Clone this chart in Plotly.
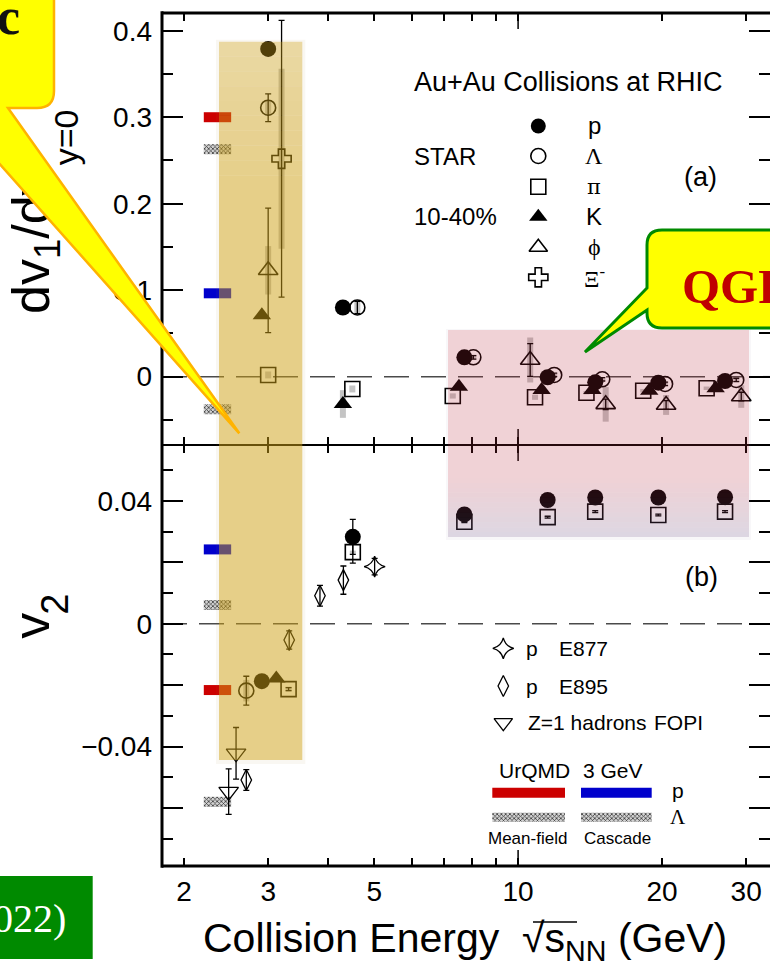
import math
import plotly.graph_objects as go

# ---------------------------------------------------------------------------
# (a) STAR directed-flow slope dv1/dy at y=0, Au+Au 10-40%
# ---------------------------------------------------------------------------
p_a_e = [3.0, 4.30, 7.72, 11.53, 14.5, 19.65, 27.1]
p_a_v = [0.379, 0.080, 0.0224, -0.0007, -0.0065, -0.0069, -0.0050]

lam_a_e = [3.0, 4.61, 8.06, 11.9, 15.0, 20.3, 28.6]
lam_a_v = [0.311, 0.080, 0.0224, 0.0020, -0.0030, -0.0084, -0.0038]
lam_a_stat = [0.016, 0.007, 0.002, 0.002, 0.002, 0.002, 0.002]
lam_a_sys = [0.009, 0.008, 0.003, 0.002, 0.002, 0.002, 0.002]

pi_a_e = [3.0, 4.50, 7.30, 10.85, 13.9, 18.27, 24.8]
pi_a_v = [0.002, -0.0142, -0.0223, -0.0238, -0.0185, -0.0162, -0.0134]
pi_a_sys = [0.004, 0.004, 0.003, 0.003, 0.002, 0.002, 0.002]

k_a_e = [2.91, 4.30, 7.52, 11.2, 14.3, 18.81, 25.9]
k_a_v = [0.071, -0.0316, -0.0116, -0.0154, -0.0154, -0.0162, -0.0134]
k_a_sys = [0.004, 0.016, 0.003, 0.003, 0.002, 0.002, 0.002]

phi_a_e = [3.0, 10.6, 15.25, 20.4, 29.3]
phi_a_v = [0.123, 0.0193, -0.032, -0.0327, -0.023]
phi_a_stat = [0.072, 0.019, 0.006, 0.005, 0.005]
phi_a_sys = [0.028, 0.026, 0.020, 0.0115, 0.013]

xi_a_e = [3.2]
xi_a_v = [0.252]
xi_a_stat = [0.160]
xi_a_sys = [0.104]

# ---------------------------------------------------------------------------
# (b) elliptic flow v2
# ---------------------------------------------------------------------------
p_b_e = [2.91, 4.51, 7.72, 11.53, 14.5, 19.65, 27.1]
p_b_v = [-0.0187, 0.0283, 0.0356, 0.0403, 0.0411, 0.0411, 0.0412]
p_b_stat = [0.0008, 0.0057, 0.0003, 0.0003, 0.0003, 0.0003, 0.0003]

pi_b_e = [3.31, 4.51, 7.72, 11.53, 14.5, 19.65, 27.1]
pi_b_v = [-0.0213, 0.0233, 0.0332, 0.0347, 0.0365, 0.0354, 0.0365]
pi_b_stat = [0.0005, 0.0036, 0.0003, 0.0003, 0.0003, 0.0003, 0.0003]
pi_b_sys = [0.0008, 0.0005, 0.0004, 0.0004, 0.0004, 0.0004, 0.0004]

lam_b_e = [2.70]
lam_b_v = [-0.0218]
lam_b_stat = [0.0047]
lam_b_sys = [0.0035]

k_b_e = [3.12]
k_b_v = [-0.0178]

e877_e = [5.01]
e877_v = [0.0186]
e877_stat = [0.0027]

e895_e = [2.70, 3.32, 3.85, 4.31]
e895_v = [-0.0509, -0.0053, 0.0091, 0.0142]
e895_stat = [0.0034, 0.0030, 0.0034, 0.0046]

fopi_e = [2.48, 2.57]
fopi_v = [-0.0547, -0.0422]
fopi_stat = [0.0074, 0.0084]

# UrQMD 3 GeV predictions: mean-field p, mean-field Lambda, cascade p, cascade Lambda
urqmd_names = ["Mean-field p", "Mean-field Λ", "Cascade p", "Cascade Λ"]
urqmd_dv1 = [0.300, 0.263, 0.0964, -0.0377]
urqmd_v2 = [-0.0216, -0.0580, 0.0242, 0.0061]

# tick labels
x_ticks = [2, 3, 5, 10, 20, 30]
x_minor = [4, 6, 7, 8, 9]
ya_ticks = [0, 0.1, 0.2, 0.3, 0.4]
ya_minor = [-0.05, 0.05, 0.15, 0.25, 0.35]
yb_ticks = [-0.06, -0.04, -0.02, 0, 0.02, 0.04]
yb_text = ["", "\u22120.04", "", "0", "", "0.04"]
yb_minor = [-0.07, -0.05, -0.03, -0.01, 0.01, 0.03, 0.05]

# ---------------------------------------------------------------------------
# geometry
# ---------------------------------------------------------------------------
W, H = 770, 970
PL, PR, PT, PB = 162, 770, 13, 866
PMID = 445
XMIN, XMAX = 0.255, 1.527
YA_RANGE = [-0.079, 0.4205]
YB_RANGE = [-0.0789, 0.0582]
SPLIT = (PB - PMID) / (PB - PT)

SANS = "Liberation Sans, Arial, Helvetica, sans-serif"
SERIF = "Liberation Serif, Times New Roman, serif"


def px(x):
    return (x - PL) / (PR - PL)


def py(y):
    return (PB - y) / (PB - PT)


def e_at(xpix):
    return 10 ** (XMIN + (xpix - PL) / (PR - PL) * (XMAX - XMIN))


def va_at(ypix):
    return YA_RANGE[1] - (ypix - PT) / (PMID - PT) * (YA_RANGE[1] - YA_RANGE[0])


def vb_at(ypix):
    return YB_RANGE[1] - (ypix - PMID) / (PB - PMID) * (YB_RANGE[1] - YB_RANGE[0])


fig = go.Figure()

TOP = dict(xaxis="x2", yaxis="y2")
BOT = dict(xaxis="x", yaxis="y")


def sys_boxes(e, v, s, axes):
    fig.add_trace(go.Scatter(
        x=e, y=v, mode="markers", showlegend=False, hoverinfo="skip",
        marker=dict(size=1, color="rgba(0,0,0,0)"),
        error_y=dict(type="data", array=s, thickness=6, width=0, color="#c4c4c4"),
        **axes))


def points(e, v, symbol, size, axes, stat=None, lw=1.6):
    err = None
    if stat is not None:
        err = dict(type="data", array=stat, thickness=1.3, width=3, color="black")
    fig.add_trace(go.Scatter(
        x=e, y=v, mode="markers", showlegend=False, hoverinfo="skip",
        marker=dict(symbol=symbol, size=size, color="black",
                    line=dict(width=lw, color="black")),
        error_y=err, **axes))


# systematic boxes
sys_boxes(lam_a_e, lam_a_v, lam_a_sys, TOP)
sys_boxes(pi_a_e, pi_a_v, pi_a_sys, TOP)
sys_boxes(k_a_e, k_a_v, k_a_sys, TOP)
sys_boxes(phi_a_e, phi_a_v, phi_a_sys, TOP)
sys_boxes(xi_a_e, xi_a_v, xi_a_sys, TOP)
sys_boxes(pi_b_e, pi_b_v, pi_b_sys, BOT)
sys_boxes(lam_b_e, lam_b_v, lam_b_sys, BOT)

# UrQMD bars (short horizontal bars at the left edge)
BAR_E0, BAR_E1 = 2.20, 2.51
hatch = dict(color="#cfcfcf", pattern=dict(shape="x", size=3, solidity=0.45,
                                           fgcolor="#3a3a3a", bgcolor="#d2d2d2"))
bar_styles = [dict(color="#cc0000"), hatch, dict(color="#0000cc"), hatch]
thick_a = 10 / (PMID - PT) * (YA_RANGE[1] - YA_RANGE[0])
thick_b = 10 / (PB - PMID) * (YB_RANGE[1] - YB_RANGE[0])
for val, st in zip(urqmd_dv1, bar_styles):
    fig.add_trace(go.Bar(orientation="h", y=[val], x=[BAR_E1 - BAR_E0], base=[BAR_E0],
                         width=[thick_a], marker=dict(line=dict(width=0), **st),
                         showlegend=False, hoverinfo="skip", **TOP))
for val, st in zip(urqmd_v2, bar_styles):
    fig.add_trace(go.Bar(orientation="h", y=[val], x=[BAR_E1 - BAR_E0], base=[BAR_E0],
                         width=[thick_b], marker=dict(line=dict(width=0), **st),
                         showlegend=False, hoverinfo="skip", **BOT))

# (a) data
points(pi_a_e, pi_a_v, "square-open", 15, TOP)
points(lam_a_e, lam_a_v, "circle-open", 15, TOP, lam_a_stat)
points(phi_a_e, phi_a_v, "triangle-up-open", 17, TOP, phi_a_stat)
points(xi_a_e, xi_a_v, "cross-open", 16, TOP, xi_a_stat)
points(k_a_e, k_a_v, "triangle-up", 16, TOP, lw=0)
points(p_a_e, p_a_v, "circle", 16, TOP, lw=0)

# (b) data
points(e895_e, e895_v, "diamond-tall-open", 15, BOT, e895_stat, lw=1.3)
points(fopi_e, fopi_v, "triangle-down-open", 17, BOT, fopi_stat, lw=1.3)
points(e877_e, e877_v, "star-diamond-open", 15, BOT, e877_stat, lw=1.3)
points(pi_b_e, pi_b_v, "square-open", 15, BOT, pi_b_stat)
points(lam_b_e, lam_b_v, "circle-open", 15, BOT, lam_b_stat)
points(k_b_e, k_b_v, "triangle-up", 16, BOT, lw=0)
points(p_b_e, p_b_v, "circle", 16, BOT, p_b_stat, lw=0)

# legend keys for (a)
leg_a_sym = ["circle", "circle-open", "square-open", "triangle-up", "triangle-up-open", "cross-open"]
leg_a_lab = ["p", "Λ", "π", "K", "\u03d5", "Ξ<sup>-</sup>"]
leg_a_rows = [126, 156, 186.7, 216.7, 247.3, 277.3]
for sym, row in zip(leg_a_sym, leg_a_rows):
    fig.add_trace(go.Scatter(
        x=[e_at(538.3)], y=[va_at(row)], mode="markers", showlegend=False, hoverinfo="skip",
        marker=dict(symbol=sym, size=15 if "circle" in sym or "square" in sym else 16,
                    color="black", line=dict(width=0 if "open" not in sym else 1.6, color="black")),
        **TOP))

# legend keys for (b)
leg_b_sym = ["star-diamond-open", "diamond-tall-open", "triangle-down-open"]
leg_b_rows = [648.3, 686, 722.7]
for sym, row in zip(leg_b_sym, leg_b_rows):
    fig.add_trace(go.Scatter(
        x=[e_at(503.3)], y=[vb_at(row)], mode="markers", showlegend=False, hoverinfo="skip",
        marker=dict(symbol=sym, size=16 if "triangle" in sym else 15, color="black",
                    line=dict(width=1.3, color="black")),
        **BOT))

# legend bars for the UrQMD keys
leg_bar_cols = [(492.3, 565), (581, 651.7)]
leg_bar_rows = [792.7, 817.3]
for i, st in enumerate(bar_styles):
    col = leg_bar_cols[i // 2]
    row = leg_bar_rows[i % 2]
    e0, e1 = e_at(col[0]), e_at(col[1])
    fig.add_trace(go.Bar(orientation="h", y=[vb_at(row)], x=[e1 - e0], base=[e0],
                         width=[(9 if i % 2 else 10) / (PB - PMID) * (YB_RANGE[1] - YB_RANGE[0])],
                         marker=dict(line=dict(width=0), **st),
                         showlegend=False, hoverinfo="skip", **BOT))

# ---------------------------------------------------------------------------
# axis titles: rotated labels on free overlay axes (kept beneath the call-out)
# ---------------------------------------------------------------------------
title_parts = [
    # (base axis, x axis, text, font size, centre pixel row, standoff)
    ("y2", "x2", "dv<sub>1</sub>/dy", 52, 249.5, 103),
    ("y2", "x2", "y=0", 34, 142.5, 77),
    ("y", "x", "v", 52, 633.5, 103),
    ("y", "x", "2", 38, 610, 86),
]
title_axes = {}
for k, (base, xa, txt, fs, row, stand) in enumerate(title_parts):
    name = "yaxis%d" % (k + 3)
    rng = YA_RANGE if base == "y2" else YB_RANGE
    val = va_at(row) if base == "y2" else vb_at(row)
    title_axes[name] = dict(
        overlaying=base, anchor="free", position=0, side="left", range=rng,
        tickmode="array", tickvals=[val], ticktext=[txt], tickangle=-90,
        ticks="", showline=False, showgrid=False, zeroline=False, automargin=False,
        ticklabelstandoff=stand, tickfont=dict(size=fs, family=SANS, color="black"))
    fig.add_trace(go.Scatter(x=[None], y=[None], xaxis=xa, yaxis="y%d" % (k + 3),
                             showlegend=False, hoverinfo="skip"))

# ---------------------------------------------------------------------------
# axes
# ---------------------------------------------------------------------------
tickcommon = dict(ticks="inside", tickcolor="black", tickwidth=1.5, mirror="ticks",
                  showline=False, showgrid=False, zeroline=False, automargin=False,
                  tickfont=dict(size=28, family=SANS, color="black"))

xcommon = dict(type="log", range=[XMIN, XMAX], tickmode="array", tickvals=x_ticks,
               ticktext=[str(t) for t in x_ticks], ticklen=8,
               minor=dict(tickmode="array", tickvals=x_minor, ticks="inside", ticklen=8,
                          tickwidth=1.5, tickcolor="black"),
               ticklabelstandoff=6, **tickcommon)

fig.update_layout(
    xaxis=dict(domain=[0, 1], anchor="y", **xcommon),
    xaxis2=dict(domain=[0, 1], anchor="y2", showticklabels=False, **xcommon),
    yaxis=dict(domain=[0, SPLIT], anchor="x", range=YB_RANGE, tickmode="array",
               tickvals=yb_ticks, ticktext=yb_text, ticklen=21,
               minor=dict(tickmode="array", tickvals=yb_minor, ticks="inside", ticklen=11,
                          tickwidth=1.5, tickcolor="black"),
               ticklabelstandoff=9, **tickcommon),
    yaxis2=dict(domain=[SPLIT, 1], anchor="x2", range=YA_RANGE, tickmode="array",
                tickvals=ya_ticks, ticktext=[str(t) for t in ya_ticks], ticklen=21,
                minor=dict(tickmode="array", tickvals=ya_minor, ticks="inside", ticklen=11,
                           tickwidth=1.5, tickcolor="black"),
                ticklabelstandoff=9, **tickcommon),
    **title_axes,
)

# ---------------------------------------------------------------------------
# shapes
# ---------------------------------------------------------------------------
shapes = []
dash = "25px,12px"
shapes.append(dict(type="line", xref="paper", x0=0, x1=1, yref="y2", y0=0, y1=0,
                   line=dict(color="#4a4a4a", width=1.5, dash=dash), layer="below"))
shapes.append(dict(type="line", xref="paper", x0=0, x1=1, yref="y", y0=0, y1=0,
                   line=dict(color="#4a4a4a", width=1.5, dash=dash), layer="below"))

# frame
frame = dict(type="line", xref="paper", yref="paper", layer="above")
shapes.append(dict(frame, x0=0, x1=0, y0=-0.002, y1=1.002, line=dict(color="black", width=3)))
shapes.append(dict(frame, x0=0, x1=1.01, y0=1, y1=1, line=dict(color="black", width=3)))
shapes.append(dict(frame, x0=0, x1=1.01, y0=0, y1=0, line=dict(color="black", width=3)))
shapes.append(dict(frame, x0=0, x1=1.01, y0=SPLIT, y1=SPLIT, line=dict(color="black", width=2)))

# longer ticks at 10 GeV
x10 = (1 - XMIN) / (XMAX - XMIN)
for y0, y1 in [(PB, PB - 16), (PT, PT + 16), (PMID, PMID - 16), (PMID, PMID + 16)]:
    shapes.append(dict(frame, x0=x10, x1=x10, y0=py(y0), y1=py(y1), line=dict(color="black", width=1.5)))


def rect(x0, x1, y0, y1, color, op):
    return dict(type="rect", xref="paper", yref="paper", layer="above",
                x0=px(x0), x1=px(x1), y0=py(y1), y1=py(y0),
                fillcolor=color, opacity=op, line=dict(width=0))


# 3 GeV highlight band (soft edge, lighter at the top)
GX0, GX1, GY0, GY1 = 219, 302.3, 41.7, 760
shapes.append(rect(GX0 - 3, GX1 + 3, GY0 - 2, GY1 + 4, "rgb(150,120,40)", 0.06))
ramp_end = 190
n_ramp = 10
for i in range(n_ramp):
    ya = GY0 + (ramp_end - GY0) * i / n_ramp
    yb = GY0 + (ramp_end - GY0) * (i + 1) / n_ramp
    op = 0.36 + (0.48 - 0.36) * (i + 0.5) / n_ramp
    shapes.append(rect(GX0, GX1, ya, yb, "rgb(208,162,21)", op))
shapes.append(rect(GX0, GX1, ramp_end, GY1, "rgb(208,162,21)", 0.48))

# high-energy (QGP) band, pink fading to lavender at the bottom
QX0, QX1, QY0, QY1 = 448, 749, 330, 537
shapes.append(rect(QX0 - 2, QX1 + 2, QY0 - 1, QY1 + 3, "rgb(120,100,130)", 0.05))
fade_start = 478
shapes.append(rect(QX0, QX1, QY0, fade_start, "rgb(200,30,40)", 0.17))
n_fade = 12
for i in range(n_fade):
    t = (i + 0.5) / n_fade
    ya = fade_start + (QY1 - fade_start) * i / n_fade
    yb = fade_start + (QY1 - fade_start) * (i + 1) / n_fade
    c = [200 + (110 - 200) * t, 30 + (90 - 30) * t, 40 + (140 - 40) * t]
    op = 0.17 + (0.2 - 0.17) * t
    shapes.append(rect(QX0, QX1, ya, yb, "rgb(%d,%d,%d)" % tuple(int(v) for v in c), op))


def P(x, y):
    return "%.5f,%.5f" % (px(x), py(y))


# yellow call-out at the top left
c_path = ("M " + P(-30, -30) + " L " + P(54, -30) + " L " + P(54, 91) +
          " Q " + P(54, 108) + " " + P(37, 108) + " L " + P(8, 108) +
          " L " + P(239.3, 433.3) + " L " + P(-3, 161) + " L " + P(-30, 161) + " Z")
shapes.append(dict(type="path", xref="paper", yref="paper", layer="above", path=c_path,
                   fillcolor="#ffff00", line=dict(color="#ffb300", width=2.5)))

# QGP call-out at the right
q_path = ("M " + P(800, 230) + " L " + P(662, 230) + " Q " + P(647, 230) + " " + P(647, 245) +
          " L " + P(647, 288) + " L " + P(585, 352) + " L " + P(647, 310) + " L " + P(647, 313) +
          " Q " + P(647, 328) + " " + P(662, 328) + " L " + P(800, 328) + " Z")
shapes.append(dict(type="path", xref="paper", yref="paper", layer="above", path=q_path,
                   fillcolor="#ffff00", line=dict(color="#008a00", width=3)))

# green reference box bottom-left
shapes.append(dict(type="rect", xref="paper", yref="paper", layer="above",
                   x0=px(-10), x1=px(92.7), y0=py(959), y1=py(876),
                   fillcolor="#008a00", line=dict(width=0)))

# overline of the square root in the x title
shapes.append(dict(type="line", xref="paper", yref="paper", layer="above",
                   x0=px(533), x1=px(577), y0=py(922), y1=py(922),
                   line=dict(color="black", width=1.3)))

fig.update_layout(shapes=shapes)

# ---------------------------------------------------------------------------
# text
# ---------------------------------------------------------------------------
ann = []


def text(x, y, s, size, xanchor="left", family=SANS, color="black", bold=False):
    if bold:
        s = "<b>" + s + "</b>"
    ann.append(dict(x=px(x), y=py(y), xref="paper", yref="paper", text=s, showarrow=False,
                    xanchor=xanchor, yanchor="middle",
                    font=dict(size=size, family=family, color=color)))


text(412, 82, "Au+Au Collisions at RHIC", 27)
text(412, 156, "STAR", 24)
text(412, 216.7, "10-40%", 24)
leg_a_fonts = [SANS, SERIF, "DejaVu Serif, serif", SANS, SERIF, SERIF]
leg_a_sizes = [24, 24, 21, 24, 24, 24]
for lab, row, fam, fs in zip(leg_a_lab, leg_a_rows, leg_a_fonts, leg_a_sizes):
    text(594, row, lab, fs, xanchor="center", family=fam)
text(700, 177, "(a)", 27, xanchor="center")
text(701.7, 577, "(b)", 27, xanchor="center")

text(531.7, 648.3, "p", 21, xanchor="center")
text(557, 648.3, "E877", 21)
text(531.7, 686, "p", 21, xanchor="center")
text(557, 686, "E895", 21)
text(525.7, 722.7, "Z=1 hadrons", 21)
text(651.7, 722.7, "FOPI", 21)
text(496.7, 770, "UrQMD", 21)
text(581, 770, "3 GeV", 21)
text(677.7, 790, "p", 21, xanchor="center")
text(677.7, 817, "Λ", 21, xanchor="center", family=SERIF)
text(527.3, 838.3, "Mean-field", 17, xanchor="center")
text(617.7, 838.3, "Cascade", 17, xanchor="center")

text(465, 941, "Collision Energy  √s<sub>NN</sub> (GeV)", 41, xanchor="center")

text(680, 286, "QGP", 49, family=SERIF, color="#c00000", bold=True)
text(22, 16, "c", 52, xanchor="right", family=SERIF, color="#111111", bold=True)
text(68, 918, "022)", 40, xanchor="right", family=SERIF, color="white")

fig.update_layout(annotations=ann)

fig.update_layout(
    width=W, height=H, template="none",
    margin=dict(l=PL, r=W - PR, t=PT, b=H - PB, pad=0),
    paper_bgcolor="white", plot_bgcolor="rgba(0,0,0,0)",
    showlegend=False, barmode="overlay",
    font=dict(family=SANS, size=28, color="black"),
)

fig.write_html("out.html")
